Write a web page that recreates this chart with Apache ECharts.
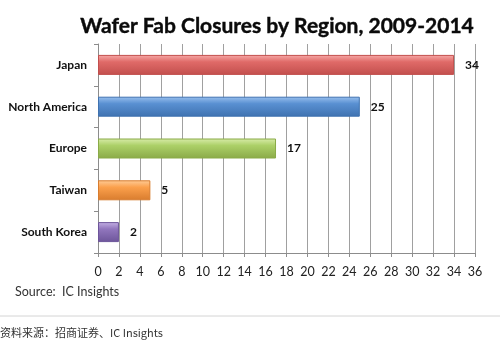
<!DOCTYPE html>
<html>
<head>
<meta charset="utf-8">
<style>
  html, body { margin: 0; padding: 0; background: #ffffff; }
  #chart { width: 500px; height: 348px; }
</style>
<script src="https://cdn.jsdelivr.net/npm/echarts@6/dist/echarts.min.js"></script>
</head>
<body>
<div id="chart"></div>
<script>
// Wafer fab closures per region, 2009-2014
const regions = ['Japan', 'North America', 'Europe', 'Taiwan', 'South Korea'];
const closures = [34, 25, 17, 5, 2];
const barColors = [
  ['#f6aaa8', '#e06a68', '#c24f4d'],
  ['#99c0ee', '#5990d2', '#3f72b0'],
  ['#d9ecaa', '#acd068', '#8aaa48'],
  ['#ffcc98', '#fba04c', '#d87c2e'],
  ['#c4b0e4', '#9176bd', '#6d559a']
];
const xMin = 0, xMax = 36, xStep = 2;

const FONT = 'Lato, "Open Sans", sans-serif';

const chart = echarts.init(document.getElementById('chart'), null, { renderer: 'canvas' });

const data = closures.map((v, i) => ({
  value: v,
  itemStyle: {
    color: new echarts.graphic.LinearGradient(0, 0, 0, 1, [
      { offset: 0, color: barColors[i][0] },
      { offset: 0.35, color: barColors[i][1] },
      { offset: 1, color: barColors[i][2] }
    ]),
    borderColor: barColors[i][2],
    borderWidth: 1
  }
}));

chart.setOption({
  animation: false,
  backgroundColor: '#ffffff',
  grid: { left: 98, right: 25, top: 44, bottom: 95, containLabel: false },
  xAxis: {
    type: 'value',
    min: xMin,
    max: xMax,
    interval: xStep,
    axisLine: { show: true, lineStyle: { color: '#8c8c8c', width: 1 } },
    axisTick: { show: true, length: 4, lineStyle: { color: '#8c8c8c' } },
    splitLine: { show: true, lineStyle: { color: '#a0a0a0', width: 1 } },
    axisLabel: { color: '#222', fontFamily: FONT, fontSize: 12.5, margin: 12 }
  },
  yAxis: {
    type: 'category',
    data: regions,
    inverse: true,
    axisLine: { show: true, lineStyle: { color: '#8c8c8c', width: 1 } },
    axisTick: { show: true, length: 4, lineStyle: { color: '#8c8c8c' } },
    axisLabel: { color: '#111', fontFamily: FONT, fontWeight: 'bold', fontSize: 12, margin: 11 }
  },
  series: [{
    type: 'bar',
    data: data,
    barWidth: 20,
    label: {
      show: true,
      position: 'right',
      distance: 11,
      color: '#111',
      fontFamily: FONT,
      fontWeight: 'bold',
      fontSize: 12
    }
  }],
  graphic: [
    {
      type: 'text',
      left: 80,
      top: 16,
      style: {
        text: 'Wafer Fab Closures by Region, 2009-2014',
        fontFamily: FONT,
        fontWeight: 'bold',
        fontSize: 21,
        fill: '#0a0a0a',
        stroke: '#0a0a0a',
        lineWidth: 0.4
      }
    },
    {
      type: 'text',
      left: 15,
      top: 285,
      style: {
        text: 'Source:  IC Insights',
        fontFamily: FONT,
        fontSize: 12.5,
        fill: '#333'
      }
    },
    {
      type: 'line',
      shape: { x1: 0, y1: 316, x2: 500, y2: 316 },
      style: { stroke: '#d4d4d4', lineWidth: 1 }
    },
    {
      type: 'text',
      left: 0,
      top: 327,
      style: {
        text: '资料来源：招商证券、IC Insights',
        fontFamily: '"Noto Sans CJK SC", sans-serif',
        fontSize: 11,
        fill: '#333'
      }
    }
  ]
});
</script>
</body>
</html>
